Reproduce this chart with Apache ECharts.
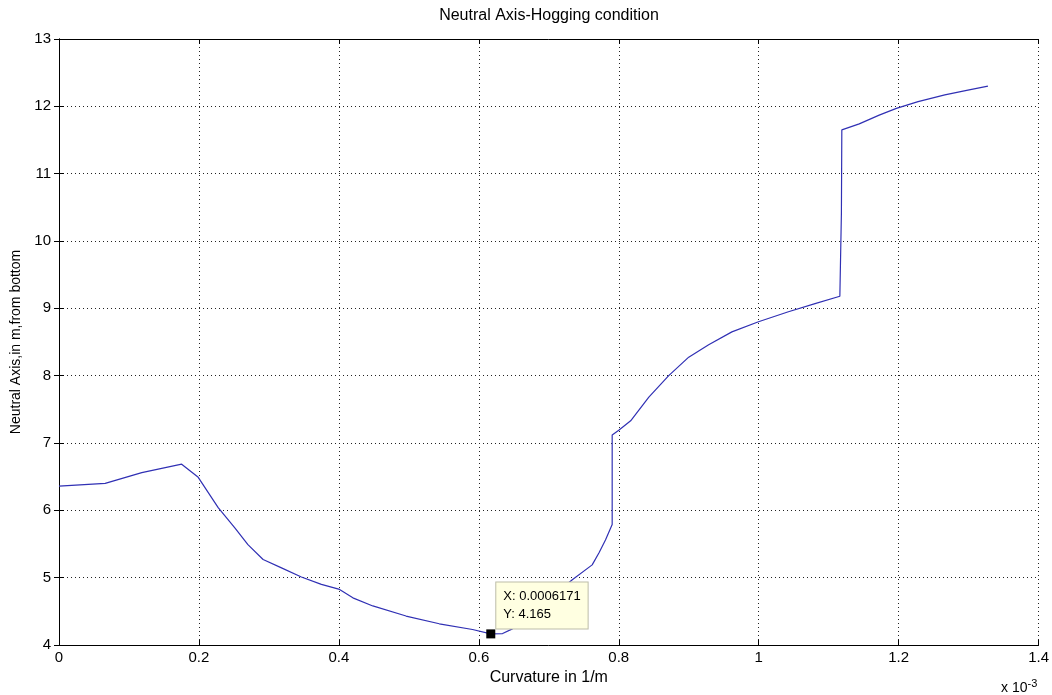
<!DOCTYPE html>
<html>
<head>
<meta charset="utf-8">
<script src="https://cdn.jsdelivr.net/npm/echarts@6/dist/echarts.min.js"></script>
<style>
  html, body { margin: 0; padding: 0; background: #fff; }
  #chart { width: 1052px; height: 695px; }
</style>
</head>
<body>
<div id="chart"></div>
<script>
// Curvature (in units of 1e-3 1/m) and neutral-axis height (m from bottom)
const curvature = [
  0, 0.066, 0.1183, 0.1753, 0.199, 0.2275, 0.2513, 0.270, 0.2917, 0.318,
  0.3464, 0.375, 0.401, 0.42, 0.4485, 0.496, 0.5435, 0.591, 0.6171, 0.634,
  0.648, 0.67, 0.70, 0.7336, 0.762, 0.7718, 0.781, 0.7906, 0.7906, 0.800,
  0.817, 0.843, 0.8714, 0.900, 0.9285, 0.9617, 0.9997, 1.0425, 1.0805, 1.116,
  1.1172, 1.1182, 1.1188, 1.1437, 1.1722, 1.1968, 1.2278, 1.266, 1.299, 1.3276
];
const neutralAxis = [
  6.36, 6.40, 6.56, 6.685, 6.49, 6.04, 5.74, 5.49, 5.27, 5.146,
  5.01, 4.90, 4.825, 4.70, 4.58, 4.43, 4.315, 4.23, 4.165, 4.17,
  4.24, 4.42, 4.68, 4.97, 5.19, 5.37, 5.56, 5.79, 7.12, 7.19,
  7.33, 7.68, 8.00, 8.275, 8.46, 8.65, 8.80, 8.95, 9.07, 9.18,
  9.19, 10.41, 11.65, 11.74, 11.87, 11.97, 12.07, 12.17, 12.24, 12.30
];

// Data tip on the minimum
const tipX = 0.6171;
const tipY = 4.165;

// Axis ranges
const xMin = 0, xMax = 1.4, xStep = 0.2;
const yMin = 4, yMax = 13, yStep = 1;

const FONT = 'Liberation Sans';

const points = curvature.map((c, i) => [c, neutralAxis[i]]);

const baseAxisLine = { show: true, lineStyle: { color: '#000', width: 1 } };
const tick = { show: true, inside: true, length: 5, lineStyle: { color: '#000', width: 1 } };
const dotted = { show: true, lineStyle: { color: '#222', width: 1, type: [1, 3] } };

const chart = echarts.init(document.getElementById('chart'), null, { renderer: 'canvas' });

chart.setOption({
  animation: false,
  backgroundColor: '#fff',
  title: {
    text: 'Neutral Axis-Hogging condition',
    left: 544, top: 3, textAlign: 'center',
    textStyle: { fontFamily: FONT, fontSize: 16, fontWeight: 'normal', color: '#000' }
  },
  grid: { left: 59, right: 11, top: 39, bottom: 50 },
  xAxis: [
    {
      type: 'value', min: xMin, max: xMax, interval: xStep,
      name: 'Curvature in 1/m', nameLocation: 'middle', nameGap: 25,
      nameTextStyle: { fontFamily: FONT, fontSize: 16, color: '#000' },
      axisLine: baseAxisLine, axisTick: tick, splitLine: dotted,
      axisLabel: {
        fontFamily: FONT, fontSize: 15, color: '#000', margin: 5,
        formatter: v => String(+v.toFixed(4))
      }
    },
    {
      type: 'value', position: 'top', min: xMin, max: xMax, interval: xStep,
      axisLine: baseAxisLine, axisTick: tick, splitLine: { show: false },
      axisLabel: { show: false }
    }
  ],
  yAxis: [
    {
      type: 'value', min: yMin, max: yMax, interval: yStep,
      name: 'Neutral Axis,in m,from bottom', nameLocation: 'middle', nameGap: 34,
      nameTextStyle: { fontFamily: FONT, fontSize: 14, color: '#000' },
      axisLine: baseAxisLine, axisTick: tick, splitLine: dotted,
      axisLabel: { fontFamily: FONT, fontSize: 15, color: '#000', margin: 8 }
    },
    {
      type: 'value', position: 'right', min: yMin, max: yMax, interval: yStep,
      axisLine: baseAxisLine, axisTick: tick, splitLine: { show: false },
      axisLabel: { show: false }
    }
  ],
  graphic: [
    {
      type: 'text', left: 1001, top: 678,
      style: {
        text: 'x 10{s|-3}',
        font: '14px ' + FONT, fill: '#000',
        rich: { s: { fontSize: 11, fontFamily: FONT, verticalAlign: 'top', padding: [0, 0, 10, 0] } }
      }
    }
  ],
  series: [
    {
      type: 'line', data: points, showSymbol: false, z: 3,
      lineStyle: { color: '#3030b4', width: 1.2 },
      emphasis: { disabled: true }
    },
    {
      type: 'scatter', data: [[tipX, tipY]], symbol: 'rect', symbolSize: 9, z: 10,
      itemStyle: { color: '#000', opacity: 1 },
      emphasis: { disabled: true },
      label: {
        show: true, position: [10, -47], align: 'left', verticalAlign: 'top',
        formatter: p => 'X: ' + (p.value[0] / 1000).toPrecision(4) + '\nY: ' + p.value[1],
        fontFamily: FONT, fontSize: 13, color: '#000', lineHeight: 18,
        backgroundColor: '#ffffe1', borderColor: '#bdbda8', borderWidth: 1,
        padding: [5, 7, 5, 7]
      }
    }
  ]
});
</script>
</body>
</html>
